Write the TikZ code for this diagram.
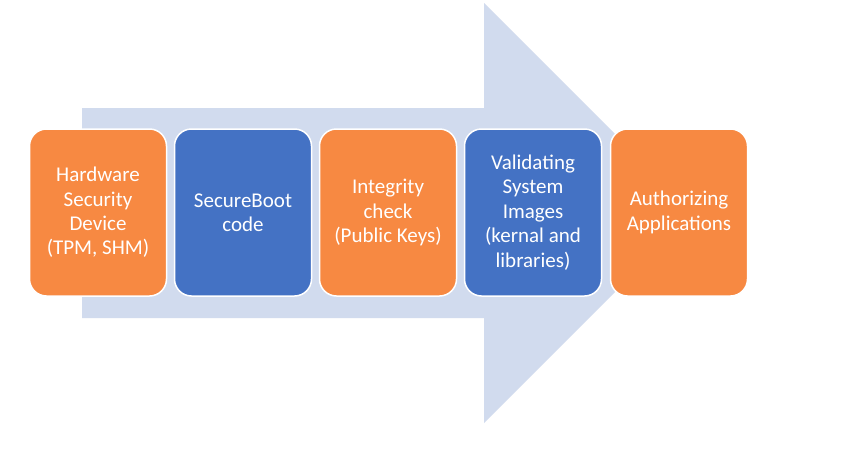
\documentclass[tikz,border=0pt]{standalone}
\usepackage{fontspec}
\setmainfont{Carlito}
\definecolor{boxorange}{RGB}{247,137,66}
\definecolor{boxblue}{RGB}{68,114,196}
\definecolor{arrowfill}{RGB}{209,219,238}
\tikzset{
  stagebox/.style={draw=white, line width=1.5pt, rounded corners=17pt,
    minimum width=137pt, minimum height=167pt, text=white, align=center,
    font=\fontsize{21}{24.4}\selectfont, inner sep=2pt},
  orangebox/.style={stagebox, fill=boxorange},
  bluebox/.style={stagebox, fill=boxblue}
}
\begin{document}
\begin{tikzpicture}[x=1pt,y=-1pt]
\useasboundingbox (0,0) rectangle (853,451);
\fill[white] (0,0) rectangle (853,451);
\fill[arrowfill] (82,108) -- (484,108) -- (484,3) -- (694,213) -- (484,423) -- (484,318) -- (82,318) -- cycle;
\node[orangebox] (b1) at (98,212.5) {Hardware\\Security\\Device\\(TPM, SHM)};
\node[bluebox] (b2) at (243,212.5) {SecureBoot\\code};
\node[orangebox] (b3) at (388,212.5) {Integrity\\check\\(Public Keys)};
\node[bluebox] (b4) at (533,212.5) {Validating\\System\\Images\\(kernal and\\libraries)};
\node[orangebox] (b5) at (679,212.5) {Authorizing\\Applications};
\end{tikzpicture}
\end{document}
